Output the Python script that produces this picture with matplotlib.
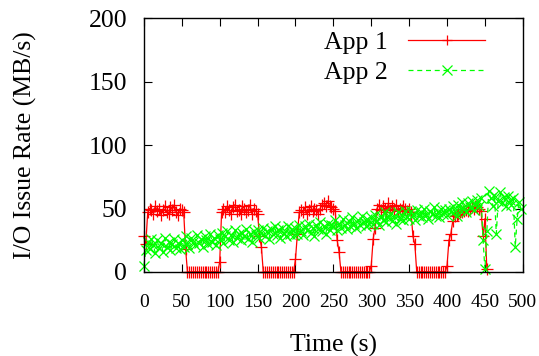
import numpy as np
import matplotlib
matplotlib.use("Agg")
import matplotlib.pyplot as plt

# Sample times (s), one sample every 2.5 s
time_s = np.arange(0, 500, 2.5)

# App 1 I/O issue rate (MB/s)
app1 = [
    28, 22, 47, 50, 49, 46, 52, 48, 50, 45, 49, 52, 47, 46, 51, 49, 53, 47, 45, 50,
    49, 47, 18, 0, 0, 0, 0, 0, 0, 0, 0, 0, 0, 0, 0, 0, 0, 0, 0, 0,
    8, 47, 50, 47, 52, 49, 46, 51, 53, 48, 49, 46, 52, 50, 47, 49, 53, 46, 50, 48,
    46, 28, 20, 0, 0, 0, 0, 0, 0, 0, 0, 0, 0, 0, 0, 0, 0, 0, 0, 0,
    10, 30, 47, 49, 47, 51, 46, 49, 52, 48, 50, 49, 46, 50, 53, 54, 52, 56, 52, 51,
    50, 48, 25, 16, 0, 0, 0, 0, 0, 0, 0, 0, 0, 0, 0, 0, 0, 0, 0, 0,
    5, 26, 35, 50, 53, 49, 52, 50, 47, 54, 49, 52, 50, 53, 48, 50, 49, 52, 50, 48,
    50, 47, 28, 22, 0, 0, 0, 0, 0, 0, 0, 0, 0, 0, 0, 0, 0, 0, 0, 0,
    5, 25, 30, 40, 44, 45, 46, 47, 47, 48, 49, 48, 50, 51, 50, 52, 51, 50, 48, 28,
    42, 2, np.nan, np.nan, np.nan, np.nan, np.nan, np.nan, np.nan, np.nan,
    np.nan, np.nan, np.nan, np.nan, np.nan, np.nan, np.nan, np.nan, np.nan, np.nan,
]

# App 2 I/O issue rate (MB/s)
app2 = [
    5, 17, 24, 18, 26, 21, 15, 25, 19, 23, 16, 27, 20, 24, 17, 22, 26, 19, 23, 18,
    25, 20, 28, 22, 19, 27, 24, 21, 29, 23, 26, 20, 28, 25, 22, 30, 24, 27, 21, 29,
    26, 31, 23, 28, 32, 25, 29, 24, 33, 27, 30, 25, 31, 28, 34, 26, 30, 24, 32, 29,
    33, 27, 31, 35, 28, 32, 26, 34, 30, 36, 29, 33, 27, 35, 31, 28, 36, 30, 34, 29,
    35, 30, 37, 32, 29, 36, 33, 38, 31, 35, 28, 37, 34, 39, 32, 36, 30, 38, 33, 37,
    36, 41, 33, 38, 35, 42, 37, 34, 40, 36, 43, 38, 35, 41, 37, 44, 39, 36, 42, 38,
    43, 38, 45, 40, 37, 44, 41, 47, 39, 43, 46, 40, 44, 38, 47, 42, 45, 41, 48, 43,
    42, 48, 45, 41, 49, 44, 47, 43, 50, 45, 42, 48, 46, 51, 44, 47, 43, 50, 46, 49,
    45, 50, 47, 52, 48, 44, 53, 49, 55, 50, 47, 54, 51, 56, 49, 53, 57, 52, 58, 25,
    2, 32, 64, 58, 52, 61, 30, 56, 63, 54, 59, 52, 60, 57, 53, 58, 20, 42, 55, 50,
]

x_ticks = [0, 50, 100, 150, 200, 250, 300, 350, 400, 450, 500]
y_ticks = [0, 50, 100, 150, 200]

plt.rcParams['font.family'] = ['Liberation Serif', 'DejaVu Serif']

fig = plt.figure(figsize=(5.39, 3.56), dpi=100)
ax = fig.add_axes([0.267, 0.236, 0.703, 0.713])

ax.plot(time_s, app1, color='#ff0000', lw=0.9, ls='-', marker='+', ms=9, mew=0.9,
        label='App 1', clip_on=False, zorder=2)
ax.plot(time_s, app2, color='#00ff00', lw=0.9, ls=(0, (4, 3)), marker='x', ms=7, mew=0.9,
        label='App 2', clip_on=False, zorder=3)

ax.set_xlim(0, 500)
ax.set_ylim(0, 200)
ax.set_xticks(x_ticks)
ax.set_yticks(y_ticks)
ax.tick_params(axis='both', direction='in', length=5.8, width=0.8, top=True, right=True)
ax.tick_params(axis='x', labelsize=14, pad=16)
ax.tick_params(axis='y', labelsize=18.5, pad=12)
for s in ax.spines.values():
    s.set_linewidth(1.0)
    s.set_zorder(4)

ax.set_xlabel('Time (s)', fontsize=18.5, labelpad=16)
ax.set_ylabel('I/O Issue Rate (MB/s)', fontsize=18.5, labelpad=37)

leg = ax.legend(loc='upper right', bbox_to_anchor=(0.942, 1.012), frameon=False,
                fontsize=18.5, markerfirst=False, handlelength=3.0, numpoints=1,
                labelspacing=0.3, handletextpad=0.8, borderaxespad=0.2)
for h in leg.legend_handles:
    h.set_markersize(7)

fig.savefig('out.png', dpi=100)
